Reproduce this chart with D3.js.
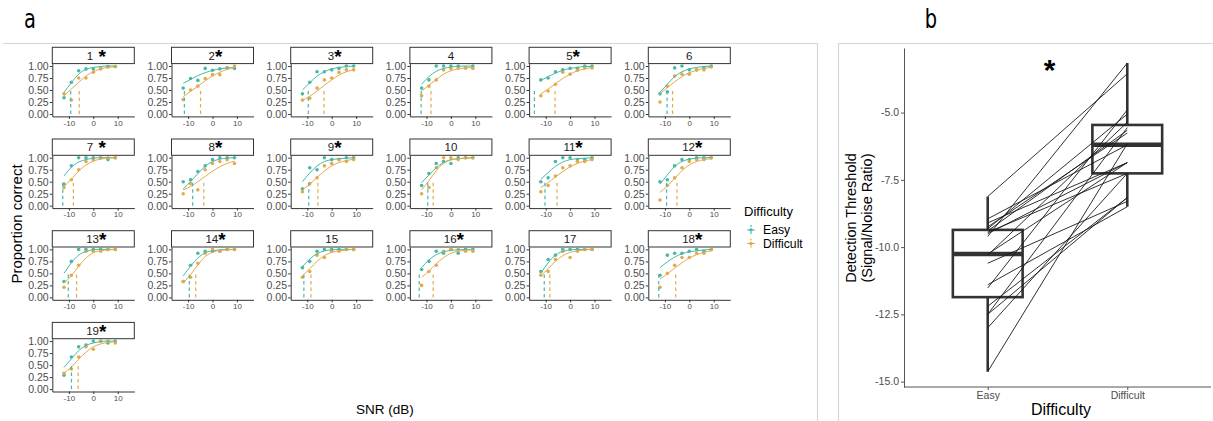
<!DOCTYPE html>
<html><head><meta charset="utf-8">
<script src="https://cdn.jsdelivr.net/npm/d3@7"></script>
<style>
body{margin:0;background:#fff}
text{font-family:"Liberation Sans",Arial,sans-serif}
</style>
</head><body>
<svg id="c" width="1213" height="421"></svg>
<script>
// ---------------- DATA ----------------
const snrLevels = [-12, -9, -6, -3, 0, 3, 6, 9];
const participants = ["1","2","3","4","5","6","7","8","9","10","11","12","13","14","15","16","17","18","19"];
const significant = [true,true,true,false,true,false,true,true,true,false,true,true,true,true,false,true,false,true,true];

const easyProp = [
  [0.34,0.66,0.90,0.94,0.94,0.95,0.99,0.99],
  [0.54,0.74,0.70,0.95,0.91,0.94,0.96,0.95],
  [0.42,0.66,0.88,0.88,0.92,0.95,1.00,1.00],
  [0.54,0.71,1.00,1.00,1.00,1.00,0.96,1.00],
  [0.71,0.75,0.88,0.92,0.95,0.95,1.00,1.00],
  [0.42,0.46,0.96,1.00,0.92,0.92,0.96,1.00],
  [0.45,0.83,1.00,1.00,1.00,1.00,0.96,1.00],
  [0.50,0.54,0.71,0.83,0.96,1.00,1.00,1.00],
  [0.35,0.79,0.75,1.00,0.96,0.96,1.00,1.00],
  [0.42,0.67,0.88,0.92,0.88,1.00,1.00,1.00],
  [0.50,0.58,0.92,1.00,1.00,0.96,0.96,1.00],
  [0.50,0.54,0.83,0.96,0.96,1.00,1.00,1.00],
  [0.33,0.75,1.00,1.00,1.00,1.00,1.00,1.00],
  [0.33,0.67,0.92,0.96,0.96,0.96,1.00,1.00],
  [0.62,0.75,0.96,1.00,1.00,1.00,1.00,1.00],
  [0.58,0.75,0.96,0.92,1.00,0.92,1.00,1.00],
  [0.54,0.79,0.88,1.00,1.00,1.00,1.00,1.00],
  [0.46,0.88,0.92,0.92,0.96,1.00,0.96,1.00],
  [0.29,0.67,0.88,0.92,1.00,1.00,0.96,1.00]
];
const diffProp = [
  [0.42,0.29,0.75,0.75,0.87,0.94,0.98,0.99],
  [0.30,0.50,0.58,0.74,0.82,0.82,0.96,1.00],
  [0.29,0.33,0.54,0.71,0.75,0.87,0.92,0.92],
  [0.38,0.58,0.71,0.92,0.95,0.96,0.96,0.95],
  [0.38,0.48,0.62,0.87,0.83,0.91,0.96,0.96],
  [0.25,0.58,0.79,0.83,0.83,0.92,0.92,0.98],
  [0.38,0.54,0.75,0.92,0.96,1.00,1.00,1.00],
  [0.25,0.46,0.33,0.75,0.88,0.92,0.96,0.88],
  [0.29,0.46,0.58,0.83,0.88,0.96,0.92,0.96],
  [0.25,0.38,0.79,1.00,1.00,0.96,1.00,1.00],
  [0.29,0.42,0.62,0.79,0.83,0.92,0.92,0.96],
  [0.12,0.42,0.58,0.79,0.92,0.96,0.96,1.00],
  [0.21,0.46,0.67,0.96,0.96,0.96,1.00,1.00],
  [0.33,0.42,0.71,0.92,1.00,0.96,1.00,1.00],
  [0.42,0.54,0.88,0.83,0.96,0.96,1.00,1.00],
  [0.25,0.54,0.67,0.96,1.00,1.00,0.96,0.96],
  [0.46,0.54,0.79,0.96,0.83,0.96,1.00,1.00],
  [0.21,0.50,0.67,0.83,0.83,0.92,0.92,1.00],
  [0.33,0.42,0.67,0.88,0.83,1.00,1.00,0.96]
];
// fitted psychometric curves at the same SNR levels
const easyFit = [
  [0.45,0.65,0.83,0.93,0.97,0.99,1.00,1.00],
  [0.64,0.72,0.80,0.86,0.91,0.94,0.96,0.97],
  [0.50,0.65,0.79,0.88,0.94,0.97,0.99,1.00],
  [0.62,0.78,0.89,0.95,0.98,0.99,1.00,1.00],
  [0.70,0.78,0.85,0.91,0.95,0.97,0.99,0.99],
  [0.45,0.62,0.78,0.88,0.94,0.97,0.99,1.00],
  [0.62,0.80,0.91,0.96,0.99,1.00,1.00,1.00],
  [0.35,0.50,0.67,0.82,0.92,0.97,0.99,1.00],
  [0.50,0.68,0.83,0.92,0.96,0.98,0.99,1.00],
  [0.48,0.64,0.79,0.90,0.96,0.98,0.99,1.00],
  [0.55,0.69,0.82,0.91,0.96,0.98,0.99,1.00],
  [0.45,0.64,0.82,0.92,0.97,0.99,1.00,1.00],
  [0.50,0.72,0.88,0.96,0.99,1.00,1.00,1.00],
  [0.45,0.65,0.82,0.93,0.97,0.99,1.00,1.00],
  [0.64,0.80,0.91,0.97,0.99,1.00,1.00,1.00],
  [0.62,0.78,0.89,0.95,0.98,0.99,1.00,1.00],
  [0.50,0.72,0.88,0.96,0.99,1.00,1.00,1.00],
  [0.62,0.74,0.84,0.91,0.95,0.97,0.99,1.00],
  [0.45,0.63,0.80,0.91,0.96,0.99,1.00,1.00]
];
const diffFit = [
  [0.38,0.52,0.66,0.79,0.88,0.94,0.97,0.98],
  [0.36,0.47,0.58,0.69,0.79,0.87,0.93,0.97],
  [0.28,0.37,0.48,0.60,0.71,0.81,0.88,0.92],
  [0.48,0.60,0.72,0.83,0.90,0.94,0.96,0.97],
  [0.42,0.52,0.63,0.74,0.83,0.90,0.94,0.97],
  [0.42,0.55,0.67,0.78,0.86,0.91,0.95,0.97],
  [0.40,0.55,0.72,0.85,0.93,0.97,0.99,1.00],
  [0.33,0.40,0.50,0.61,0.72,0.81,0.88,0.93],
  [0.33,0.45,0.59,0.72,0.83,0.90,0.94,0.97],
  [0.33,0.52,0.73,0.88,0.95,0.98,0.99,1.00],
  [0.38,0.48,0.60,0.71,0.81,0.88,0.93,0.96],
  [0.28,0.41,0.57,0.73,0.85,0.92,0.96,0.98],
  [0.30,0.45,0.65,0.82,0.93,0.97,0.99,1.00],
  [0.30,0.47,0.68,0.85,0.94,0.98,0.99,1.00],
  [0.45,0.60,0.75,0.87,0.94,0.97,0.99,1.00],
  [0.42,0.55,0.70,0.83,0.92,0.96,0.98,0.99],
  [0.45,0.60,0.75,0.87,0.94,0.97,0.99,1.00],
  [0.38,0.49,0.61,0.72,0.82,0.89,0.94,0.97],
  [0.33,0.46,0.62,0.77,0.88,0.94,0.97,0.99]
];
const easyThreshold = [-9.25,-11.52,-9.6,-12.2,-14.63,-9.1,-12.5,-8.12,-9.4,-9.45,-10.3,-9.32,-10.26,-9.5,-11.4,-13.0,-10.6,-12.5,-8.95];
const diffThreshold = [-5.76,-4.9,-3.16,-8.16,-6.16,-6.86,-8.16,-3.56,-5.66,-7.26,-5.36,-5.06,-6.86,-6.86,-8.5,-7.26,-8.3,-5.56,-6.2];

const difficultyLevels = ["Easy", "Difficult"];
const yTicksA = [0, 0.25, 0.5, 0.75, 1];
const xTicksA = [-10, 0, 10];
const yTicksB = [-15, -12.5, -10, -7.5, -5];

// ---------------- STYLE ----------------
const colEasy = "#48b8a8", colDiff = "#e3aa4c";
const colors = {Easy: colEasy, Difficult: colDiff};
const axisCol = "#333333", tickTextCol = "#4d4d4d";

const svg = d3.select("#c");

// frames
const frame = svg.append("g").attr("stroke", "#d4d4d4").attr("stroke-width", 1.2).attr("fill", "none");
frame.append("path").attr("d", "M3,43.5H817.5V421");
frame.append("path").attr("d", "M838.5,421V43.5H1213");

// panel letters
svg.append("text").attr("x", 30).attr("y", 28).attr("text-anchor", "middle")
  .style("font-family", "'DejaVu Sans Condensed','Liberation Sans Narrow',sans-serif")
  .style("font-size", "27px").attr("transform", "translate(30,28) scale(0.8,1) translate(-30,-28)").text("a");
svg.append("text").attr("x", 931).attr("y", 28).attr("text-anchor", "middle")
  .style("font-family", "'DejaVu Sans Condensed','Liberation Sans Narrow',sans-serif")
  .style("font-size", "27px").attr("transform", "translate(931,28) scale(0.8,1) translate(-931,-28)").text("b");

// ---------------- PANEL A ----------------
const colStep = 119.2, rowStep = 91.7, x0 = 52.3, top0 = 47.3;
const panelW = 82, stripH = 16.3, plotH = 52.8;

participants.forEach((p, i) => {
  const c = i % 6, r = Math.floor(i / 6);
  const left = x0 + c * colStep;
  const stripTop = top0 + r * rowStep;
  const pTop = stripTop + stripH, pBot = pTop + plotH;
  const x = d3.scaleLinear().domain([-16.8, 16.8]).range([left, left + panelW]);
  const y = d3.scaleLinear().domain([-0.05, 1.05]).range([pBot, pTop]);
  const g = svg.append("g");

  // strip
  g.append("rect").attr("x", left).attr("y", stripTop).attr("width", panelW).attr("height", stripH)
    .attr("fill", "#fff").attr("stroke", axisCol).attr("stroke-width", 1);
  const st = g.append("text").attr("x", left + panelW / 2 + (significant[i] ? 3 : 0)).attr("y", stripTop + 12.3)
    .attr("text-anchor", "middle").style("font-size", "11.5px").attr("fill", "#1a1a1a");
  st.append("tspan").text(p);
  if (significant[i]) st.append("tspan").attr("font-weight", "bold").attr("dy", 3).style("font-size", "19px").attr("fill", "#000")
      .text(p.length === 1 && (p === "1" || p === "7") ? " *" : "*");

  // axes
  const ya = g.append("g").attr("transform", `translate(${left},0)`)
    .call(d3.axisLeft(y).tickValues(yTicksA).tickFormat(d => d.toFixed(2)).tickSize(2.5).tickSizeOuter(0).tickPadding(1.2));
  ya.select(".domain").attr("stroke", axisCol).attr("stroke-width", 1);
  ya.selectAll(".tick line").attr("stroke", axisCol);
  ya.selectAll("text").attr("fill", tickTextCol).style("font-size", "10.5px").style("font-family", "'Liberation Sans',Arial,sans-serif");
  const xa = g.append("g").attr("transform", `translate(0,${pBot})`)
    .call(d3.axisBottom(x).tickValues(xTicksA).tickFormat(d => d === 0 ? "0" : String(d)).tickSize(2.5).tickSizeOuter(0).tickPadding(1));
  xa.select(".domain").attr("stroke", axisCol).attr("stroke-width", 1);
  xa.selectAll(".tick line").attr("stroke", axisCol);
  xa.selectAll("text").attr("fill", tickTextCol).style("font-size", "8px").style("font-family", "'Liberation Sans',Arial,sans-serif");

  const series = [
    {lvl: "Easy", prop: easyProp[i], fit: easyFit[i], thr: easyThreshold[i]},
    {lvl: "Difficult", prop: diffProp[i], fit: diffFit[i], thr: diffThreshold[i]}
  ];
  const line = d3.line().x(d => x(d[0])).y(d => y(d[1])).curve(d3.curveMonotoneX);
  series.forEach(s => {
    g.append("g").selectAll("circle").data(snrLevels.map((v, k) => [v, s.prop[k]])).join("circle")
      .attr("cx", d => x(d[0])).attr("cy", d => y(d[1])).attr("r", 1.8).attr("fill", colors[s.lvl]);
  });
  series.forEach(s => {
    g.append("path").datum(snrLevels.map((v, k) => [v, s.fit[k]])).attr("d", line)
      .attr("fill", "none").attr("stroke", colors[s.lvl]).attr("stroke-width", 1);
  });
  series.forEach(s => {
    g.append("line").attr("x1", x(s.thr)).attr("x2", x(s.thr)).attr("y1", y(0)).attr("y2", y(0.5))
      .attr("stroke", colors[s.lvl]).attr("stroke-width", 1.2).attr("stroke-dasharray", "3.5,3");
  });
});

// axis titles panel a
svg.append("text").attr("transform", "translate(22,224) rotate(-90)").attr("text-anchor", "middle")
  .style("font-size", "15px").attr("fill", "#000").text("Proportion correct");
svg.append("text").attr("x", 385).attr("y", 414).attr("text-anchor", "middle")
  .style("font-size", "13.5px").attr("fill", "#000").text("SNR (dB)");

// legend
const lg = svg.append("g");
lg.append("text").attr("x", 744).attr("y", 216).style("font-size", "13px").attr("fill", "#000").text("Difficulty");
difficultyLevels.forEach((lv, k) => {
  const cy = 230 + k * 13.5, cx = 751;
  lg.append("line").attr("x1", cx - 4).attr("x2", cx + 4).attr("y1", cy).attr("y2", cy).attr("stroke", colors[lv]).attr("stroke-width", 1);
  lg.append("line").attr("x1", cx).attr("x2", cx).attr("y1", cy - 5).attr("y2", cy + 5).attr("stroke", colors[lv]).attr("stroke-width", 1.2).attr("stroke-dasharray", "2,1.5");
  lg.append("circle").attr("cx", cx).attr("cy", cy).attr("r", 1.8).attr("fill", colors[lv]);
  lg.append("text").attr("x", 763).attr("y", cy + 4.2).style("font-size", "12.2px").attr("fill", "#000").text(lv);
});

// ---------------- PANEL B ----------------
const yB = d3.scaleLinear().domain([-15.2, -2.6]).range([387, 48]);
const xB = d3.scalePoint().domain(difficultyLevels).range([904, 1211]).padding(0.6);
const boxW = xB.step() * 0.5;
const gb = svg.append("g");

const thrByLevel = {Easy: easyThreshold, Difficult: diffThreshold};
difficultyLevels.forEach(lv => {
  const v = thrByLevel[lv].slice().sort(d3.ascending);
  const q1 = d3.quantile(v, 0.25), med = d3.quantile(v, 0.5), q3 = d3.quantile(v, 0.75);
  const iqr = q3 - q1;
  const lo = d3.min(v.filter(d => d >= q1 - 1.5 * iqr)), hi = d3.max(v.filter(d => d <= q3 + 1.5 * iqr));
  const cx = xB(lv);
  gb.append("line").attr("x1", cx).attr("x2", cx).attr("y1", yB(q3)).attr("y2", yB(hi)).attr("stroke", "#333").attr("stroke-width", 2.6);
  gb.append("line").attr("x1", cx).attr("x2", cx).attr("y1", yB(q1)).attr("y2", yB(lo)).attr("stroke", "#333").attr("stroke-width", 2.6);
  gb.append("rect").attr("x", cx - boxW / 2).attr("width", boxW).attr("y", yB(q3)).attr("height", yB(q1) - yB(q3))
    .attr("fill", "#fff").attr("stroke", "#333").attr("stroke-width", 2.6);
  gb.append("line").attr("x1", cx - boxW / 2).attr("x2", cx + boxW / 2).attr("y1", yB(med)).attr("y2", yB(med)).attr("stroke", "#333").attr("stroke-width", 4.5);
});
participants.forEach((p, i) => {
  gb.append("line").attr("x1", xB("Easy")).attr("y1", yB(easyThreshold[i]))
    .attr("x2", xB("Difficult")).attr("y2", yB(diffThreshold[i]))
    .attr("stroke", "#1a1a1a").attr("stroke-width", 0.9);
});

const yaB = gb.append("g").attr("transform", "translate(904,0)")
  .call(d3.axisLeft(yB).tickValues(yTicksB).tickFormat(d => d.toFixed(1)).tickSize(3).tickSizeOuter(0).tickPadding(2));
yaB.select(".domain").attr("stroke", "#555").attr("stroke-width", 1);
yaB.selectAll(".tick line").attr("stroke", "#555");
yaB.selectAll("text").attr("fill", tickTextCol).style("font-size", "10.5px").style("font-family", "'Liberation Sans',Arial,sans-serif");
const xaB = gb.append("g").attr("transform", "translate(0,387)")
  .call(d3.axisBottom(xB).tickSize(3).tickSizeOuter(0).tickPadding(2));
xaB.select(".domain").attr("stroke", "#555").attr("stroke-width", 1).attr("d", "M904,0H1211");
xaB.selectAll(".tick line").attr("stroke", "#555");
xaB.selectAll("text").attr("fill", tickTextCol).style("font-size", "10.5px").style("font-family", "'Liberation Sans',Arial,sans-serif");

svg.append("text").attr("transform", "translate(856,218) rotate(-90)").attr("text-anchor", "middle")
  .style("font-size", "14.5px").attr("fill", "#000").text("Detection Threshold");
svg.append("text").attr("transform", "translate(872,218) rotate(-90)").attr("text-anchor", "middle")
  .style("font-size", "14.5px").attr("fill", "#000").text("(Signal/Noise Ratio)");
svg.append("text").attr("x", 1061).attr("y", 415).attr("text-anchor", "middle")
  .style("font-size", "16px").attr("fill", "#000").text("Difficulty");
svg.append("text").attr("x", (xB("Easy") + xB("Difficult")) / 2 - 8).attr("y", 80).attr("text-anchor", "middle")
  .attr("font-weight", "bold").style("font-size", "30px").attr("fill", "#000").text("*");
</script>
</body></html>
